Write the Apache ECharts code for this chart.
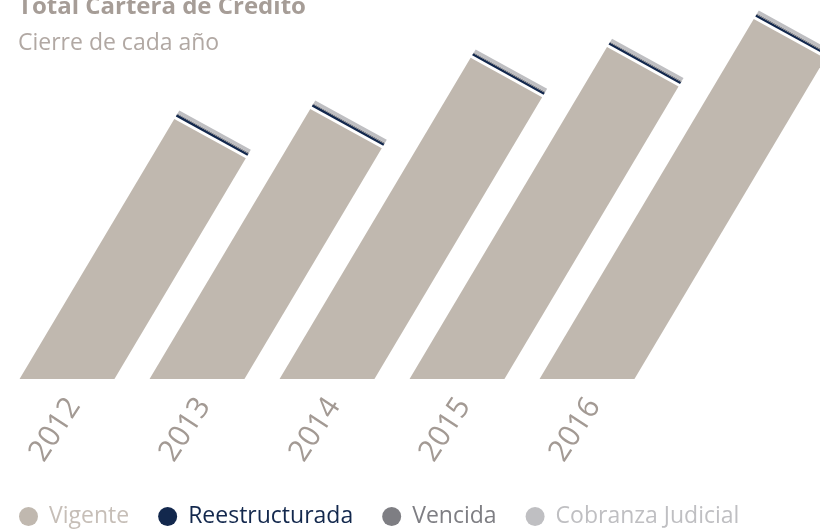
<!DOCTYPE html>
<html>
<head>
<meta charset="utf-8">
<script src="https://cdn.jsdelivr.net/npm/echarts@6/dist/echarts.min.js"></script>
<style>
  html, body { margin: 0; padding: 0; background: #fff; }
  #chart { width: 820px; height: 529px; }
</style>
</head>
<body>
<div id="chart"></div>
<script>
// data (arbitrary units)
const years = ['2012', '2013', '2014', '2015', '2016']
const vigente = [70.3, 73.0, 86.8, 89.7, 97.3]
const reestructurada = [0.55, 0.55, 0.55, 0.55, 0.55]
const vencida = [0.25, 0.25, 0.25, 0.25, 0.25]
const cobranza = [0.8, 0.8, 0.8, 0.8, 0.8]

const seriesNames = ['Vigente', 'Reestructurada', 'Vencida', 'Cobranza Judicial']
const colors = ['#c0b8af', '#13284d', '#7e7e83', '#bfbfc2']
const textColors = ['#c6beb7', '#13284d', '#7e7e83', '#bfbfc2']
const layers = [vigente, reestructurada, vencida, cobranza]

// skew look of the columns
const SKEW = 0.595   // x shift per px of height
const TOP_SLOPE = 0.55 // the top edge goes down to the right
const BAR_RATIO = 0.73
const GAP = 2.5

const font = '"Open Sans", "Noto Sans", sans-serif'

function stackData(li) {
  return years.map((y, i) => {
    let low = 0
    for (let j = 0; j < li; j++) low += layers[j][i]
    return [i, low, low + layers[li][i]]
  })
}

function renderItem(params, api) {
  const idx = api.value(0)
  const low = api.value(1)
  const high = api.value(2)
  const base = api.coord([idx, 0])
  const band = api.size([1, 0])[0]
  const W = band * BAR_RATIO
  const xL = base[0] - W / 2
  const baseY = base[1]
  const gap = params.seriesIndex > 0 ? GAP : 0
  const hLow = baseY - api.coord([idx, low])[1] + gap
  const hHigh = baseY - api.coord([idx, high])[1] + gap
  const s = W / (1 + SKEW * TOP_SLOPE)
  const tl = h => [xL + SKEW * h, baseY - h]
  const tr = h => [xL + SKEW * h + s, baseY - h + TOP_SLOPE * s]
  let points
  if (params.seriesIndex === 0) {
    points = [[xL, baseY], [xL + W, baseY], tr(hHigh), tl(hHigh)]
  } else {
    points = [tl(hLow), tr(hLow), tr(hHigh), tl(hHigh)]
  }
  return {
    type: 'polygon',
    shape: { points: points },
    style: { fill: api.visual('color') }
  }
}

const chart = echarts.init(document.getElementById('chart'))

chart.setOption({
  animation: false,
  title: [
    {
      text: 'Total Cartera de Crédito',
      left: 13,
      top: -10,
      textStyle: { color: '#a69d97', fontSize: 24, fontWeight: 'bold', fontFamily: font }
    },
    {
      text: 'Cierre de cada año',
      left: 13,
      top: 27,
      textStyle: { color: '#b1a8a3', fontSize: 23, fontWeight: 'normal', fontFamily: font }
    }
  ],
  legend: {
    left: 14,
    top: 500,
    icon: 'circle',
    itemWidth: 19,
    itemHeight: 19,
    itemGap: 29,
    textStyle: { fontSize: 23, fontFamily: font, padding: [0, 0, 0, 6] },
    data: seriesNames.map((n, i) => ({ name: n, textStyle: { color: textColors[i] } }))
  },
  grid: [
    { left: 2, width: 650, top: 9, bottom: 150 },
    // same band layout, nudged right, only for the year labels
    { left: 9, width: 650, top: 9, bottom: 150 }
  ],
  xAxis: [
    {
      type: 'category',
      data: years,
      gridIndex: 0,
      axisLine: { show: false },
      axisTick: { show: false },
      axisLabel: { show: false }
    },
    {
      type: 'category',
      data: years,
      gridIndex: 1,
      axisLine: { show: false },
      axisTick: { show: false },
      axisLabel: {
        rotate: 57,
        margin: 22,
        color: '#a39a94',
        fontSize: 30,
        fontFamily: font
      }
    }
  ],
  yAxis: [
    { type: 'value', min: 0, max: 100, show: false, gridIndex: 0 },
    { type: 'value', min: 0, max: 100, show: false, gridIndex: 1 }
  ],
  series: layers.map((l, li) => ({
    name: seriesNames[li],
    type: 'custom',
    renderItem: renderItem,
    itemStyle: { color: colors[li] },
    encode: { x: 0, y: [1, 2] },
    data: stackData(li)
  }))
})
</script>
</body>
</html>
